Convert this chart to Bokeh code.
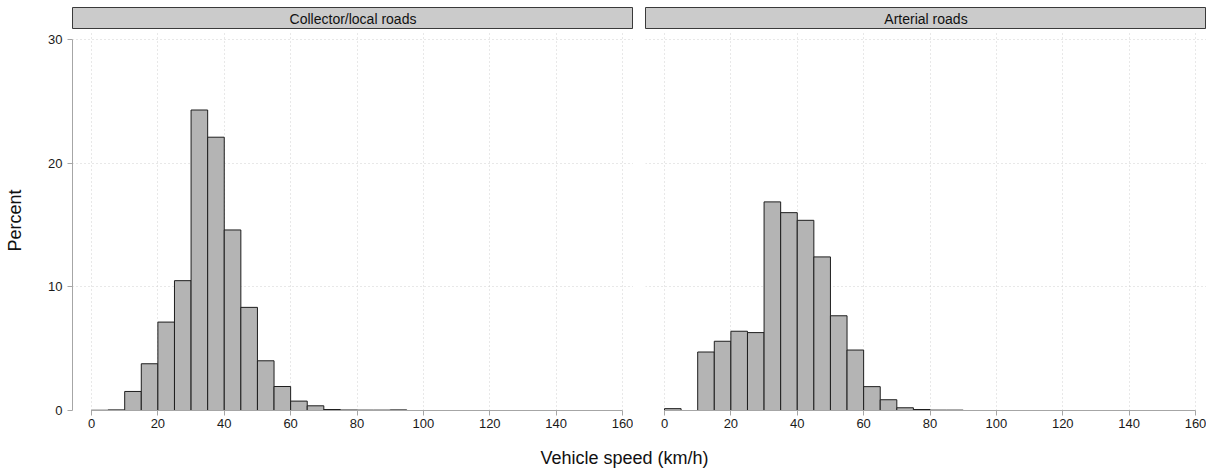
from bokeh.plotting import figure
from bokeh.models import Range1d, FixedTicker, Grid
from bokeh.layouts import column, row
from bokeh.embed import file_html
from bokeh.resources import INLINE
from bokeh.core.properties import value

# ---------------- data ----------------
panel_titles = ["Collector/local roads", "Arterial roads"]
bin_width = 5
collector_bins = [0, 5, 10, 15, 20, 25, 30, 35, 40, 45, 50, 55, 60, 65, 70, 75, 80, 85, 90]
collector_pct = [0.02, 0.05, 1.54, 3.78, 7.15, 10.5, 24.3, 22.1, 14.6, 8.34, 4.02, 1.94,
                 0.76, 0.38, 0.08, 0.04, 0.03, 0.03, 0.05]
arterial_bins = [0, 5, 10, 15, 20, 25, 30, 35, 40, 45, 50, 55, 60, 65, 70, 75, 80, 85]
arterial_pct = [0.15, 0.0, 4.73, 5.6, 6.41, 6.3, 16.87, 16.0, 15.38, 12.42, 7.66, 4.89,
                1.93, 0.87, 0.22, 0.08, 0.03, 0.03]
x_ticks = [0, 20, 40, 60, 80, 100, 120, 140, 160]
y_ticks = [0, 10, 20, 30]
x_label = "Vehicle speed (km/h)"
y_label = "Percent"

# ---------------- style ----------------
FONT = "Liberation Sans"
BAR_FILL = "#b4b4b4"
BAR_LINE = "#1e1e1e"
AXIS_COL = "#a6a6a6"
GRID_COL = "#d0d0d0"
STRIP_FILL = "#cbcbcb"
STRIP_LINE = "#3a3a3a"

FRAME_W = 561
GAP = 12
LEFT_B = 72
HEADER_TOP = 7
HEADER_H = 22
PANEL_TOP_B = 1
FRAME_H = 380
BOTTOM_B = 26
PANEL_H = PANEL_TOP_B + FRAME_H + BOTTOM_B
TOTAL_W = LEFT_B + FRAME_W + GAP + FRAME_W
XL_H = 469 - (HEADER_TOP + HEADER_H) - PANEL_H
XR = (-5.725, 163.31)
YR = (0, 30.73)


def header(title, left_border):
    h = figure(width=left_border + FRAME_W, height=HEADER_TOP + HEADER_H,
               x_range=Range1d(0, 1), y_range=Range1d(0, 1),
               toolbar_location=None, output_backend="svg",
               min_border_left=left_border, min_border_right=0,
               min_border_top=HEADER_TOP, min_border_bottom=0,
               x_axis_location=None, y_axis_location=None)
    h.grid.visible = False
    h.background_fill_color = STRIP_FILL
    h.border_fill_color = "white"
    h.outline_line_color = STRIP_LINE
    h.outline_line_width = 1
    h.text(x=[0.5], y=[0.5], text=[title], text_align="center", text_baseline="middle",
           text_font=value(FONT), text_font_size="14px", text_color="#111111")
    return h


def style_grid(g, ticker):
    g.ticker = ticker
    g.grid_line_color = GRID_COL
    g.grid_line_dash = "1 3"
    g.grid_line_width = 1


def panel(bins, pct, left_border, show_y):
    p = figure(width=left_border + FRAME_W, height=PANEL_H, x_range=Range1d(*XR),
               y_range=Range1d(*YR), toolbar_location=None, output_backend="svg",
               min_border_left=left_border, min_border_right=0,
               min_border_top=PANEL_TOP_B, min_border_bottom=BOTTOM_B,
               y_axis_location="left" if show_y else None)
    p.outline_line_color = None
    p.background_fill_color = "white"
    p.border_fill_color = "white"

    xt = FixedTicker(ticks=x_ticks)
    yt = FixedTicker(ticks=y_ticks)

    p.xaxis.ticker = xt
    p.xaxis.bounds = (0, 160)
    p.xaxis.axis_line_color = AXIS_COL
    p.xaxis.major_tick_line_color = AXIS_COL
    p.xaxis.minor_tick_line_color = None
    p.xaxis.major_tick_out = 5
    p.xaxis.major_tick_in = 0
    p.xaxis.major_label_standoff = 3
    p.xaxis.major_label_text_font = FONT
    p.xaxis.major_label_text_font_size = "13px"
    p.xaxis.major_label_text_color = "#1a1a1a"

    for g in p.xgrid:
        style_grid(g, xt)

    if show_y:
        p.yaxis.ticker = yt
        p.yaxis.bounds = (0, 30)
        p.yaxis.axis_line_color = AXIS_COL
        p.yaxis.major_tick_line_color = AXIS_COL
        p.yaxis.minor_tick_line_color = None
        p.yaxis.major_tick_out = 5
        p.yaxis.major_tick_in = 0
        p.yaxis.major_label_standoff = 5
        p.yaxis.major_label_text_font = FONT
        p.yaxis.major_label_text_font_size = "13px"
        p.yaxis.major_label_text_color = "#1a1a1a"
        p.yaxis.axis_label = y_label
        p.yaxis.axis_label_text_font = FONT
        p.yaxis.axis_label_text_font_size = "18px"
        p.yaxis.axis_label_text_font_style = "normal"
        p.yaxis.axis_label_text_color = "#111111"
        p.yaxis.axis_label_standoff = 20

    if len(p.ygrid) > 0:
        for g in p.ygrid:
            style_grid(g, yt)
    else:
        g = Grid(dimension=1)
        style_grid(g, yt)
        p.add_layout(g)

    rights = [b + bin_width for b in bins]
    p.quad(left=bins, right=rights, bottom=0, top=pct, fill_color=BAR_FILL,
           line_color=BAR_LINE, line_width=1)
    return p


h1 = header(panel_titles[0], LEFT_B)
h2 = header(panel_titles[1], GAP)
p1 = panel(collector_bins, collector_pct, LEFT_B, True)
p2 = panel(arterial_bins, arterial_pct, GAP, False)

xl = figure(width=TOTAL_W, height=XL_H, x_range=Range1d(0, TOTAL_W), y_range=Range1d(0, XL_H),
            toolbar_location=None, output_backend="svg", min_border=0,
            x_axis_location=None, y_axis_location=None)
xl.grid.visible = False
xl.outline_line_color = None
xl.text(x=[624], y=[XL_H - 21], text=[x_label], text_align="center", text_baseline="middle",
        text_font=value(FONT), text_font_size="18px", text_color="#111111")

layout = column(row(h1, h2), row(p1, p2), xl)
layout.spacing = 0
open("out.html", "w").write(file_html(layout, INLINE))
